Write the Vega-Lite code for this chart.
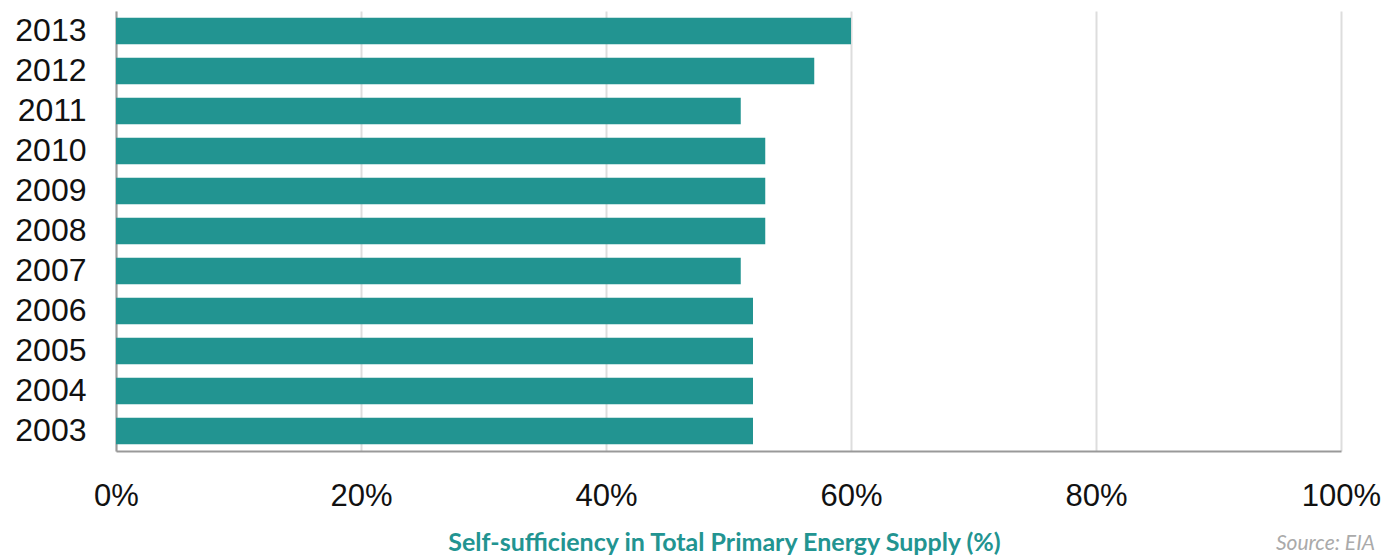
{
  "$schema": "https://vega.github.io/schema/vega-lite/v6.json",
  "width": 1225,
  "height": 440,
  "autosize": {"type": "none"},
  "padding": {"left": 116, "top": 11, "right": 44, "bottom": 107},
  "background": "white",
  "title": {
    "text": "Source: EIA",
    "orient": "bottom",
    "anchor": "end",
    "frame": "group",
    "dx": 34,
    "offset": -22,
    "font": "Lato",
    "fontStyle": "italic",
    "fontWeight": "normal",
    "fontSize": 21,
    "color": "#aaaaaa"
  },
  "data": {
    "values": [
      {"year": "2013", "value": 60},
      {"year": "2012", "value": 57},
      {"year": "2011", "value": 51},
      {"year": "2010", "value": 53},
      {"year": "2009", "value": 53},
      {"year": "2008", "value": 53},
      {"year": "2007", "value": 51},
      {"year": "2006", "value": 52},
      {"year": "2005", "value": 52},
      {"year": "2004", "value": 52},
      {"year": "2003", "value": 52}
    ]
  },
  "mark": {"type": "bar", "color": "#229491"},
  "encoding": {
    "y": {
      "field": "year",
      "type": "ordinal",
      "sort": "descending",
      "scale": {"paddingInner": 0.34, "paddingOuter": 0.17},
      "axis": {
        "title": null,
        "ticks": false,
        "labelFont": "Liberation Sans",
        "labelFontSize": 32,
        "labelColor": "#111111",
        "labelPadding": 30,
        "domainColor": "#999999",
        "domainWidth": 2
      }
    },
    "x": {
      "field": "value",
      "type": "quantitative",
      "scale": {"domain": [0, 100], "nice": false},
      "axis": {
        "values": [0, 20, 40, 60, 80, 100],
        "labelExpr": "datum.value + '%'",
        "labelFlush": false,
        "labelBound": false,
        "title": "Self-sufficiency in Total Primary Energy Supply (%)",
        "titleFont": "Lato",
        "titleFontSize": 25,
        "titleFontWeight": "bold",
        "titleColor": "#229491",
        "titlePadding": 19,
        "titleX": 608,
        "ticks": false,
        "labelFont": "Liberation Sans",
        "labelFontSize": 31,
        "labelColor": "#111111",
        "labelPadding": 30,
        "domainColor": "#999999",
        "domainWidth": 2,
        "grid": true,
        "gridColor": "#dddddd",
        "gridWidth": 2
      }
    }
  },
  "config": {"view": {"stroke": null}}
}
